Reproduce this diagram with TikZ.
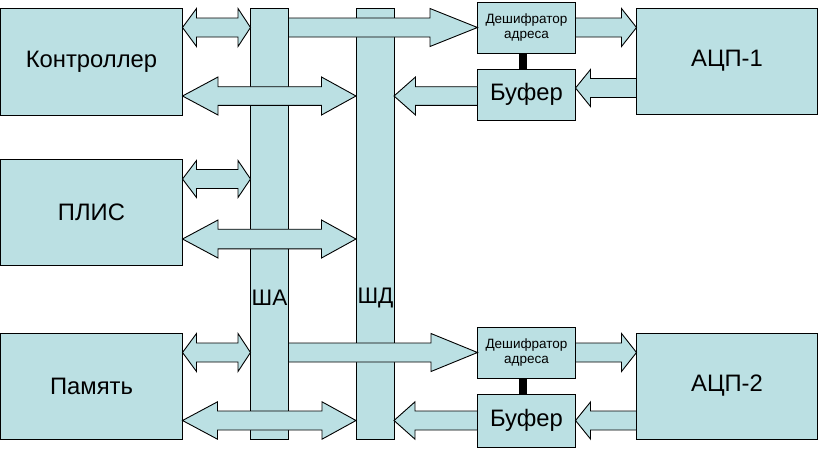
\documentclass[tikz,border=0pt]{standalone}
\usepackage{fontspec}
\setmainfont{Liberation Sans}
\usetikzlibrary{calc}
\definecolor{boxfill}{RGB}{187,224,227}
\tikzset{
  box/.style={draw=black, fill=boxfill, line width=1pt, inner sep=0pt, outer sep=0pt,
    anchor=north west, font=\fontsize{23.8}{28}\selectfont},
  decbox/.style={box, align=center, font=\fontsize{13.5}{15}\selectfont},
  arr/.style={draw=black, fill=boxfill, line width=0.9pt, line join=miter},
  buslabel/.style={font=\fontsize{22.5}{26}\selectfont, inner sep=0pt},
}
% single block arrow from anchor #1 (tail) to anchor #2 (tip), at pixel row #3
% #4 shaft half height, #5 head half height, #6 head length
\newcommand\sarrow[6]{%
  \path[arr] let \p1=(#1), \p2=(#2), \n1={ifthenelse(\x2>\x1,1,-1)} in
    (\x1,{-(#3-#4)*1pt}) -- ({\x2-\n1*#6*1pt},{-(#3-#4)*1pt}) -- ({\x2-\n1*#6*1pt},{-(#3-#5)*1pt})
    -- (\x2,{-#3*1pt}) -- ({\x2-\n1*#6*1pt},{-(#3+#5)*1pt}) -- ({\x2-\n1*#6*1pt},{-(#3+#4)*1pt})
    -- (\x1,{-(#3+#4)*1pt}) -- cycle;}
% double block arrow between anchors #1 (left) and #2 (right)
\newcommand\darrow[7]{%
  \path[arr] let \p1=(#1), \p2=(#2) in
    (\x1,{-#3*1pt}) -- ({\x1+#6*1pt},{-(#3-#5)*1pt}) -- ({\x1+#6*1pt},{-(#3-#4)*1pt})
    -- ({\x2-#7*1pt},{-(#3-#4)*1pt}) -- ({\x2-#7*1pt},{-(#3-#5)*1pt}) -- (\x2,{-#3*1pt})
    -- ({\x2-#7*1pt},{-(#3+#5)*1pt}) -- ({\x2-#7*1pt},{-(#3+#4)*1pt})
    -- ({\x1+#6*1pt},{-(#3+#4)*1pt}) -- ({\x1+#6*1pt},{-(#3+#5)*1pt}) -- cycle;}
\begin{document}
\begin{tikzpicture}[x=1pt, y=1pt]
\useasboundingbox (0,0) rectangle (819,-448);
% left blocks
\node[box, minimum width=182pt, minimum height=107pt] (ctrl) at (0.5,-8) {Контроллер};
\node[box, minimum width=182pt, minimum height=106pt] (plis) at (0.5,-159) {ПЛИС};
\node[box, minimum width=182pt, minimum height=106pt] (mem) at (0.5,-333) {Память};
% buses
\node[box, minimum width=38pt, minimum height=431.5pt] (sha) at (250.5,-8) {};
\node[box, minimum width=38pt, minimum height=431.5pt] (shd) at (356,-8) {};
\node[buslabel] (shalabel) at (269.5,-297.5) {ША};
\node[buslabel] (shdlabel) at (375.5,-297.5) {ШД};
% decoders and buffers
\node[decbox, minimum width=98pt, minimum height=51pt] (dec1) at (477.5,-2) {Дешифратор\\адреса};
\node[box, minimum width=98pt, minimum height=51pt] (buf1) at (477.5,-69) {Буфер};
\node[decbox, minimum width=98pt, minimum height=51pt] (dec2) at (477.5,-327) {Дешифратор\\адреса};
\node[box, minimum width=98pt, minimum height=53pt] (buf2) at (477.5,-394) {Буфер};
% ADCs
\node[box, minimum width=181pt, minimum height=106pt] (adc1) at (636.5,-8) {АЦП-1};
\node[box, minimum width=181pt, minimum height=106pt] (adc2) at (636.5,-333) {АЦП-2};
% links decoder-buffer
\draw[line width=8pt] ($(dec1.south)+(-3.5,0)$) -- ($(buf1.north)+(-3.5,0)$);
\draw[line width=8pt] ($(dec2.south)+(-3.5,0)$) -- ($(buf2.north)+(-3.5,0)$);
% top group
\darrow{ctrl.east}{sha.west}{27.5}{9.5}{19}{14}{12.5}
\sarrow{sha.east}{dec1.west}{27.5}{9.5}{19}{47.5}
\sarrow{dec1.west -| dec1.east}{adc1.west}{27.5}{9.5}{19}{15}
\darrow{ctrl.east}{shd.west}{96}{9.3}{19}{35.5}{34.5}
\sarrow{buf1.west}{shd.east}{96}{9.3}{19}{21.5}
\sarrow{adc1.west}{buf1.east}{88}{9.5}{18.5}{15}
% middle group
\darrow{plis.east}{sha.west}{179}{9.5}{18.5}{14}{12.5}
\darrow{plis.east}{shd.west}{239}{9.8}{19}{35.5}{34.5}
% bottom group
\darrow{mem.east}{sha.west}{352.5}{9.5}{19}{14}{12.5}
\sarrow{sha.east}{dec2.west}{352.5}{9.5}{19}{46.5}
\sarrow{dec2.west -| dec2.east}{adc2.west}{352.5}{9.5}{19}{15}
\darrow{mem.east}{shd.west}{420.5}{9.5}{18.7}{35}{34}
\sarrow{buf2.west}{shd.east}{420.5}{9.5}{18.7}{21}
\sarrow{adc2.west}{buf2.east}{420.5}{9.5}{18.5}{15}
\end{tikzpicture}
\end{document}
